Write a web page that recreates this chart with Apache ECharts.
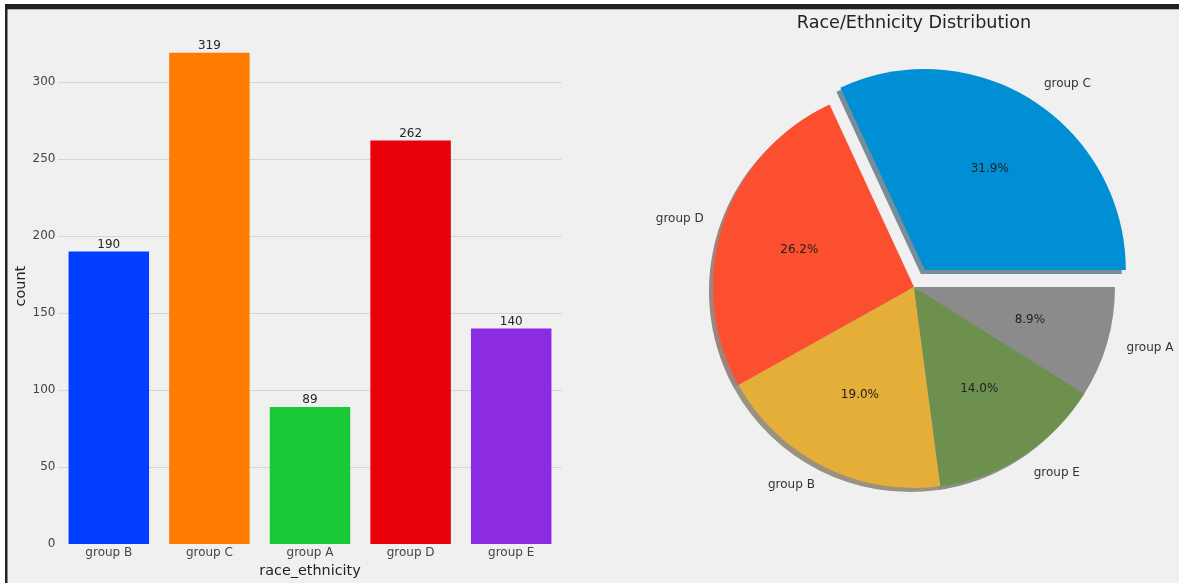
<!DOCTYPE html>
<html>
<head>
<meta charset="utf-8">
<script src="https://cdn.jsdelivr.net/npm/echarts@6/dist/echarts.min.js"></script>
<style>
  html, body { margin: 0; padding: 0; background: #fff; }
  #chart { width: 1179px; height: 583px; }
</style>
</head>
<body>
<div id="chart"></div>
<script>
// Student counts per race/ethnicity group, in countplot order
const barCategories = ['group B', 'group C', 'group A', 'group D', 'group E'];
const barCounts = [190, 319, 89, 262, 140];
const yTicks = [0, 50, 100, 150, 200, 250, 300];

// Same counts for the pie, largest slice first
const pieCategories = ['group C', 'group D', 'group B', 'group E', 'group A'];
const pieCounts = [319, 262, 190, 140, 89];
const explodedSlice = 'group C';

// Styling
const BG = '#f0f0f0';
const FONT = 'DejaVu Sans';
const barColors = ['#023eff', '#ff7c00', '#1ac938', '#e8000b', '#8b2be2'];
const pieColors = ['#008fd5', '#fc4f30', '#e5ae38', '#6d904f', '#8b8b8b'];

// Pie geometry (pixels)
const PIE_CX = 914, PIE_CY = 287, PIE_R = 201;
const EXPLODE = PIE_R * 0.1;
const SHADOW_SHIFT = PIE_R * 0.02;

// Shadow tint: 30% of the slice colour at half opacity over the background
function shadowOf(hex) {
  const c = [1, 3, 5].map(i => parseInt(hex.slice(i, i + 2), 16));
  const b = [1, 3, 5].map(i => parseInt(BG.slice(i, i + 2), 16));
  const m = c.map((v, k) => Math.round(0.5 * 0.3 * v + 0.5 * b[k]));
  return 'rgb(' + m.join(',') + ')';
}

const pieTotal = pieCounts.reduce((a, b) => a + b, 0);
const yMax = Math.max(...barCounts) * 1.05;

function pieData(colorFn) {
  return pieCategories.map((name, i) => ({
    name: name,
    value: pieCounts[i],
    selected: name === explodedSlice,
    itemStyle: { color: colorFn(i) }
  }));
}

const pieCommon = {
  type: 'pie',
  center: [PIE_CX, PIE_CY],
  startAngle: 0,
  clockwise: false,
  selectedMode: 'single',
  selectedOffset: EXPLODE,
  avoidLabelOverlap: false,
  emphasis: { disabled: true },
  labelLine: { show: false },
  animation: false
};

const chart = echarts.init(document.getElementById('chart'), null, { renderer: 'canvas' });

chart.setOption({
  backgroundColor: BG,
  animation: false,
  textStyle: { fontFamily: FONT },
  title: {
    text: 'Race/Ethnicity Distribution',
    left: PIE_CX - 5,
    top: 9,
    textAlign: 'center',
    textStyle: { fontFamily: FONT, fontSize: 17.6, fontWeight: 'normal', color: '#222' }
  },
  grid: { left: 58.5, top: 544 - yMax * 1.54, width: 503, bottom: 39, containLabel: false },
  xAxis: {
    type: 'category',
    data: barCategories,
    name: 'race_ethnicity',
    nameLocation: 'middle',
    nameGap: 13,
    nameTextStyle: { fontFamily: FONT, fontSize: 14.4, color: '#222' },
    axisLine: { show: false },
    axisTick: { show: false },
    axisLabel: { fontFamily: FONT, fontSize: 12, color: '#444', margin: 3 },
    splitLine: { show: false }
  },
  yAxis: {
    type: 'value',
    min: yTicks[0],
    max: yMax,
    interval: yTicks[1] - yTicks[0],
    name: 'count',
    nameLocation: 'middle',
    nameGap: 29,
    nameTextStyle: { fontFamily: FONT, fontSize: 14.4, color: '#222' },
    axisLine: { show: false },
    axisTick: { show: false },
    axisLabel: {
      fontFamily: FONT, fontSize: 12, color: '#444', margin: 3,
      showMaxLabel: false,
      formatter: v => (yTicks.indexOf(v) >= 0 ? String(v) : '')
    },
    splitLine: { show: true, showMinLine: false, showMaxLine: false, lineStyle: { color: '#d4d4d4', width: 1 } }
  },
  series: [
    {
      type: 'bar',
      data: barCounts.map((v, i) => ({ value: v, itemStyle: { color: barColors[i] } })),
      barCategoryGap: '20%',
      label: {
        show: true, position: 'top', distance: 1,
        fontFamily: FONT, fontSize: 12, color: '#262626'
      },
      emphasis: { disabled: true },
      z: 3
    },
    // drop shadow beneath the wedges
    Object.assign({}, pieCommon, {
      center: [PIE_CX - SHADOW_SHIFT, PIE_CY + SHADOW_SHIFT],
      radius: PIE_R,
      silent: true,
      label: { show: false },
      data: pieData(i => shadowOf(pieColors[i])),
      z: 1
    }),
    // wedges with the group names outside
    Object.assign({}, pieCommon, {
      radius: PIE_R,
      label: {
        show: true,
        position: 'outside',
        formatter: '{b}',
        fontFamily: FONT, fontSize: 12, color: '#333',
        distanceToLabelLine: 0,
        padding: 0
      },
      labelLine: { show: false, length: PIE_R * 0.1, length2: 0 },
      data: pieData(i => pieColors[i]),
      z: 2
    }),
    // percentage labels at 0.6 of the radius (inside labels sit 3px past mid-radius)
    Object.assign({}, pieCommon, {
      radius: PIE_R * 1.2 - 6,
      silent: true,
      label: {
        show: true,
        position: 'inside',
        formatter: p => (p.value / pieTotal * 100).toFixed(1) + '%',
        fontFamily: FONT, fontSize: 12, color: '#222'
      },
      data: pieData(() => 'rgba(0,0,0,0)'),
      z: 4
    })
  ],
  graphic: [
    { type: 'rect', silent: true, shape: { x: 0, y: 0, width: 1179, height: 4 }, style: { fill: '#ffffff' } },
    { type: 'rect', silent: true, shape: { x: 0, y: 0, width: 5, height: 583 }, style: { fill: '#ffffff' } },
    { type: 'rect', silent: true, shape: { x: 5, y: 4, width: 1174, height: 5 }, style: { fill: '#222222' } },
    { type: 'rect', silent: true, shape: { x: 7, y: 9, width: 1172, height: 1 }, style: { fill: '#b4b4b4' } },
    { type: 'rect', silent: true, shape: { x: 5, y: 4, width: 2.5, height: 579 }, style: { fill: '#222222' } }
  ]
});
</script>
</body>
</html>
